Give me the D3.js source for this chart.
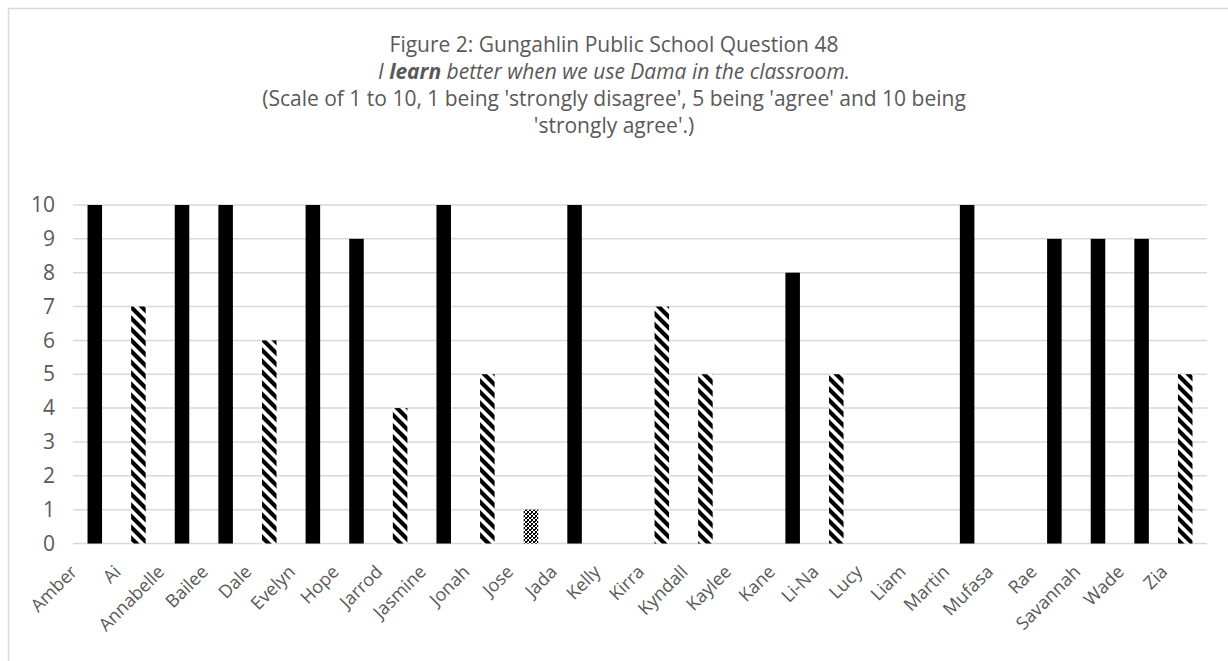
<!DOCTYPE html>
<html>
<head>
<meta charset="utf-8">
<script src="https://cdn.jsdelivr.net/npm/d3@7/dist/d3.min.js"></script>
<style>
  html, body { margin: 0; background: #fff; overflow: hidden; }
  svg { display: block; }
  text { font-family: "Open Sans", sans-serif; fill: #595959; }
</style>
</head>
<body>
<div id="chart"></div>
<script>
var svgWidth = 1228;
var svgHeight = 661;

var names = ["Amber", "Ai", "Annabelle", "Bailee", "Dale", "Evelyn", "Hope", "Jarrod", "Jasmine",
  "Jonah", "Jose", "Jada", "Kelly", "Kirra", "Kyndall", "Kaylee", "Kane", "Li-Na", "Lucy", "Liam",
  "Martin", "Mufasa", "Rae", "Savannah", "Wade", "Zia"];
var scores = [10, 7, 10, 10, 6, 10, 9, 4, 10, 5, 1, 10, 0, 7, 5, 0, 8, 5, 0, 0, 10, 0, 9, 9, 9, 5];
var yTicks = [0, 1, 2, 3, 4, 5, 6, 7, 8, 9, 10];

var margin = { top: 205, right: 20, bottom: 117, left: 73 };
var chartWidth = 1207 - margin.left;
var chartHeight = 543.5 - margin.top;

var svg = d3.select("#chart")
  .append("svg")
  .attr("width", svgWidth)
  .attr("height", svgHeight);

// patterns: hatched for middling scores, checker for low
var defs = svg.append("defs");
var hatch = defs.append("pattern")
  .attr("id", "hatch")
  .attr("patternUnits", "userSpaceOnUse")
  .attr("width", 11)
  .attr("height", 11);
hatch.append("rect").attr("width", 11).attr("height", 11).attr("fill", "#fff");
hatch.append("path")
  .attr("d", "M-3,-3 L14,14 M-3,8 L3,14 M8,-3 L14,3")
  .attr("stroke", "#000")
  .attr("stroke-width", 4.2);

var checker = defs.append("pattern")
  .attr("id", "checker")
  .attr("patternUnits", "userSpaceOnUse")
  .attr("width", 4)
  .attr("height", 4);
checker.append("rect").attr("width", 4).attr("height", 4).attr("fill", "#fff");
checker.append("rect").attr("width", 2).attr("height", 2).attr("fill", "#000");
checker.append("rect").attr("x", 2).attr("y", 2).attr("width", 2).attr("height", 2).attr("fill", "#000");
checker.append("rect").attr("x", 2).attr("y", 0).attr("width", 1).attr("height", 1).attr("fill", "#333");

// chart frame
svg.append("rect")
  .attr("x", 8.5)
  .attr("y", 8.5)
  .attr("width", 1240)
  .attr("height", 700)
  .attr("fill", "none")
  .attr("stroke", "#d9d9d9")
  .attr("stroke-width", 1.5);

// title, four lines
var title = svg.append("text")
  .attr("text-anchor", "middle")
  .style("font-size", "21px");
title.append("tspan").attr("x", 614).attr("y", 52)
  .text("Figure 2: Gungahlin Public School Question 48");
var line2 = title.append("tspan").attr("x", 614).attr("y", 79).style("font-style", "italic");
line2.append("tspan").text("I ");
line2.append("tspan").style("font-weight", "bold").text("learn");
line2.append("tspan").text(" better when we use Dama in the classroom.");
title.append("tspan").attr("x", 614).attr("y", 106)
  .text("(Scale of 1 to 10, 1 being 'strongly disagree', 5 being 'agree' and 10 being");
title.append("tspan").attr("x", 614).attr("y", 133)
  .text("'strongly agree'.)");

var chartGroup = svg.append("g")
  .attr("transform", `translate(${margin.left}, ${margin.top})`);

var xScale = d3.scaleBand()
  .domain(names)
  .range([0, chartWidth])
  .paddingInner(0.667)
  .paddingOuter(0.333);

var yScale = d3.scaleLinear()
  .domain([0, 10])
  .range([chartHeight, 0]);

// gridlines
chartGroup.selectAll(".grid")
  .data(yTicks)
  .enter()
  .append("line")
  .attr("x1", 0)
  .attr("x2", chartWidth)
  .attr("y1", d => yScale(d))
  .attr("y2", d => yScale(d))
  .attr("stroke", "#d9d9d9")
  .attr("stroke-width", 1.5);

var yAxis = d3.axisLeft(yScale)
  .tickValues(yTicks)
  .tickSize(0)
  .tickPadding(18);

var yG = chartGroup.append("g").call(yAxis);
yG.select(".domain").remove();
yG.selectAll("text")
  .style("font-family", "'Open Sans', sans-serif")
  .style("font-size", "21px")
  .attr("fill", "#595959");

function fillFor(v) {
  if (v >= 8) return "#000";
  if (v >= 2) return "url(#hatch)";
  return "url(#checker)";
}

chartGroup.selectAll(".bar")
  .data(scores)
  .enter()
  .append("rect")
  .attr("class", "bar")
  .attr("x", (d, i) => xScale(names[i]))
  .attr("y", d => yScale(d))
  .attr("width", xScale.bandwidth())
  .attr("height", d => chartHeight - yScale(d))
  .attr("fill", d => fillFor(d));

// rotated category labels
chartGroup.selectAll(".xlabel")
  .data(names)
  .enter()
  .append("text")
  .attr("class", "xlabel")
  .attr("text-anchor", "end")
  .attr("dy", "0.35em")
  .attr("transform", d => `translate(${xScale(d) + xScale.bandwidth() / 2 - 21}, ${chartHeight + 25}) rotate(-45)`)
  .style("font-size", "18px")
  .text(d => d);
</script>
</body>
</html>
